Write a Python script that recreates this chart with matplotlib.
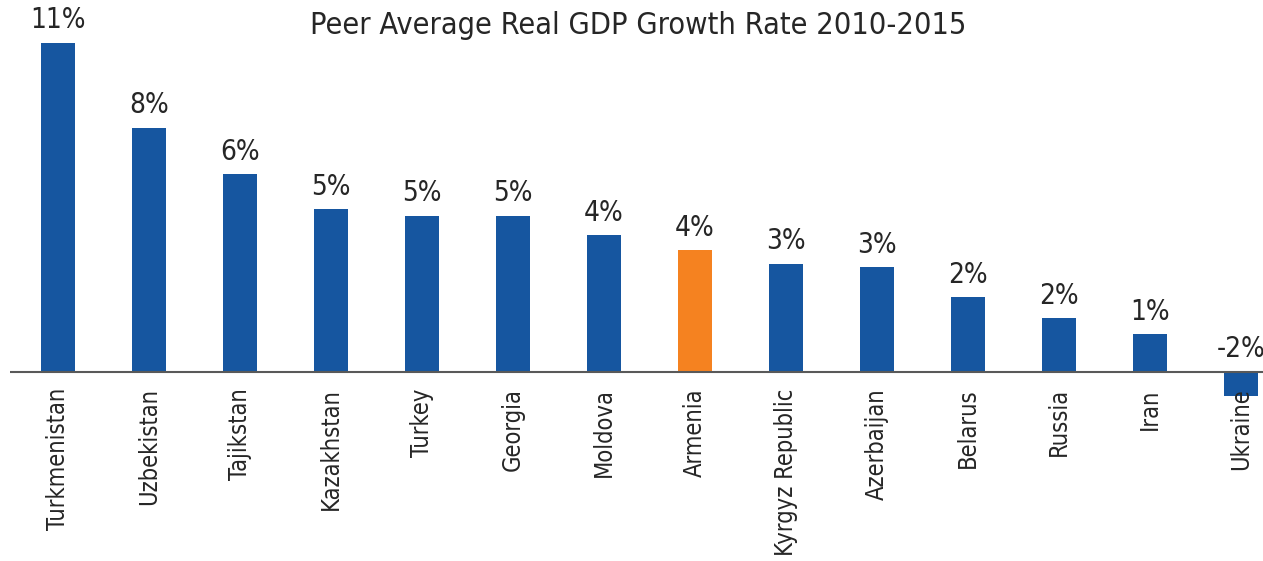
import matplotlib.pyplot as plt
import numpy as np

# Data
countries = ['Turkmenistan', 'Uzbekistan', 'Tajikstan', 'Kazakhstan', 'Turkey', 'Georgia',
             'Moldova', 'Armenia', 'Kyrgyz Republic', 'Azerbaijan', 'Belarus', 'Russia',
             'Iran', 'Ukraine']
growth = [10.6, 7.86, 6.37, 5.24, 5.02, 5.02, 4.40, 3.92, 3.48, 3.37, 2.40, 1.73, 1.21, -1.7]
labels = ['11%', '8%', '6%', '5%', '5%', '5%', '4%', '4%', '3%', '3%', '2%', '2%', '1%', '-2%']
highlight = 'Armenia'

blue = '#1656A0'
orange = '#F58220'
txt = '#262626'
font = dict(family='DejaVu Sans', stretch='condensed')

fig = plt.figure(figsize=(12.63, 5.61), dpi=100)
ax = fig.add_axes([10/1263, (561-396)/561, 1253/1263, 396/561])

x = np.arange(len(countries))
cols = [orange if c == highlight else blue for c in countries]
ax.bar(x, growth, width=0.374, color=cols, zorder=2)
ax.axhline(0, color='#595959', lw=1.5, zorder=3)

ax.set_xlim(-0.527, len(countries) - 1 + 0.24)
ax.set_ylim(-0.79, 11.98)
ax.axis('off')

# value labels above bars
for xi, v, lab in zip(x, growth, labels):
    ax.annotate(lab, (xi, max(v, 0)), xytext=(0, 6), textcoords='offset points',
                ha='center', va='bottom', fontsize=20, color=txt,
                annotation_clip=False, **font)

# category labels, rotated
for xi, name in zip(x, countries):
    ax.annotate(name, (xi, 0), xytext=(0, -12), textcoords='offset points',
                ha='center', va='top', rotation=90, fontsize=17, color=txt,
                zorder=5, annotation_clip=False, **font)

fig.text(638/1263, 1 - 25/561, 'Peer Average Real GDP Growth Rate 2010-2015',
         ha='center', va='center', fontsize=22, color=txt, **font)

plt.savefig('out.png', dpi=100)
